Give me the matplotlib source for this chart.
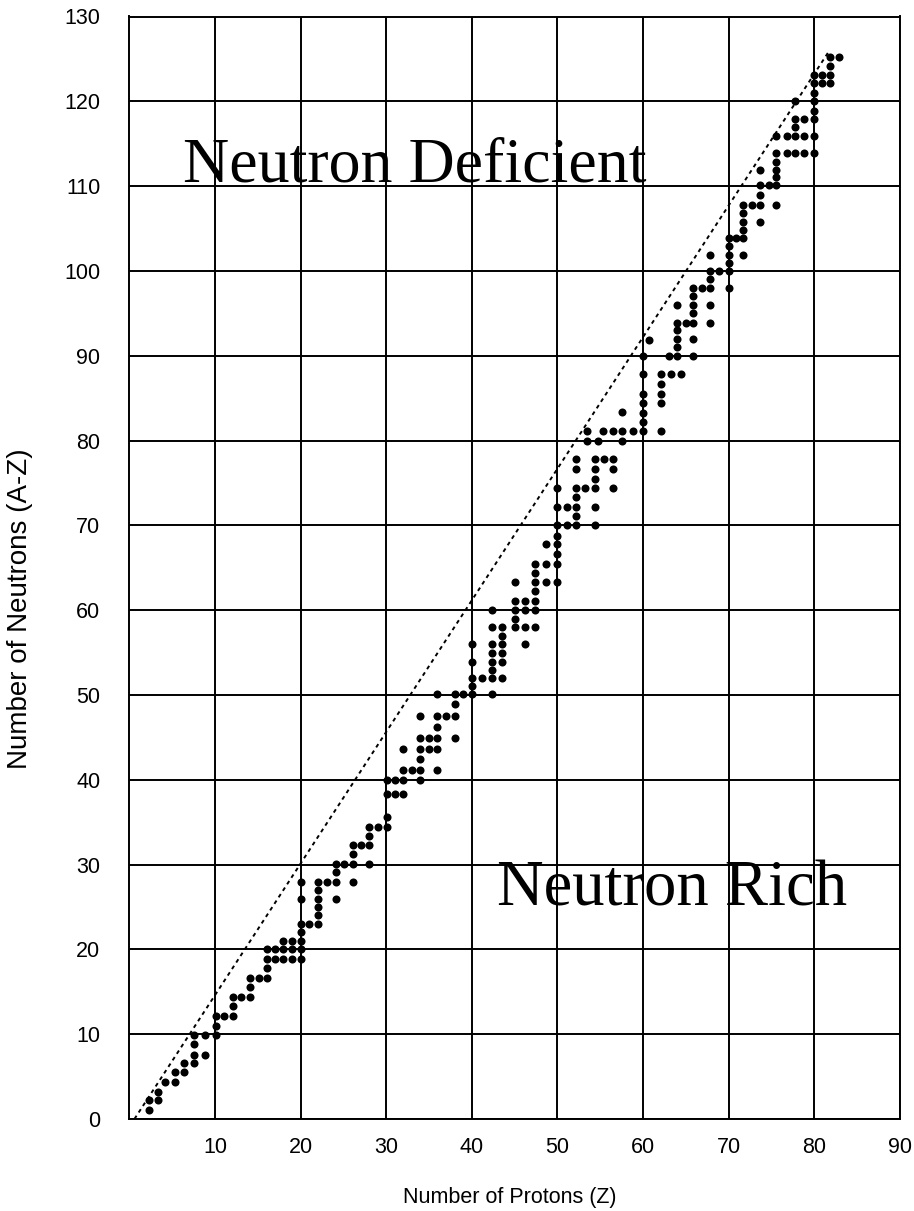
from matplotlib import pyplot as plt

# stable nuclides (protons Z -> neutron counts N)
columns = [
    (2.3, [1.1, 2.2]),
    (3.4, [2.2, 3.2]),
    (4.2, [4.4]),
    (5.3, [4.4, 5.5]),
    (6.4, [5.5, 6.6]),
    (7.5, [6.6, 7.6, 8.8, 9.9]),
    (8.8, [7.6, 9.9]),
    (10.1, [9.9, 11.0, 12.2]),
    (11.1, [12.2]),
    (12.1, [12.2, 13.3, 14.4]),
    (13.1, [14.4]),
    (14.1, [14.4, 15.6, 16.6]),
    (15.1, [16.6]),
    (16.1, [16.6, 17.8, 18.9, 20.0]),
    (17.0, [18.9, 20.0]),
    (18.0, [18.9, 20.0, 21.0]),
    (19.0, [18.9, 20.0, 21.0]),
    (20.0, [18.9, 20.0, 21.0, 22.0, 23.0, 26.0, 28.0]),
    (21.0, [23.0]),
    (22.1, [23.0, 24.1, 25.0, 26.0, 27.0, 28.0]),
    (23.1, [28.0]),
    (24.1, [26.0, 28.0, 29.1, 30.1]),
    (25.1, [30.1]),
    (26.1, [28.0, 30.1, 31.2, 32.3]),
    (27.1, [32.3]),
    (28.0, [30.1, 32.3, 33.4, 34.4]),
    (29.0, [34.4]),
    (30.1, [34.4, 35.6, 38.3, 40.0]),
    (31.0, [38.3, 40.0]),
    (32.0, [38.3, 40.0, 41.2, 43.6]),
    (33.0, [41.2]),
    (34.0, [40.0, 41.2, 42.4, 43.6, 44.9, 47.5]),
    (35.0, [43.6, 44.9]),
    (36.0, [41.2, 43.6, 44.9, 46.2, 47.5, 50.1]),
    (37.0, [47.5]),
    (38.0, [44.9, 47.5, 48.9, 50.1]),
    (39.0, [50.1]),
    (40.0, [50.1, 51.1, 52.0, 53.9, 56.0]),
    (41.2, [52.0]),
    (42.4, [50.1, 52.0, 53.0, 53.9, 54.9, 56.0, 58.0, 60.0]),
    (43.5, [52.0, 53.9, 54.9, 56.0, 57.0, 58.0]),
    (45.1, [58.0, 59.0, 60.0, 61.1, 63.3]),
    (46.2, [56.0, 58.0, 60.0, 61.1]),
    (47.4, [58.0, 60.0, 61.1, 62.2, 63.3, 64.4, 65.5]),
    (48.7, [63.3, 65.5, 67.8]),
    (50.0, [63.3, 65.5, 66.6, 67.8, 68.8, 70.0, 72.2, 74.4]),
    (51.1, [70.0, 72.2]),
    (52.2, [70.0, 71.1, 72.2, 73.3, 74.4, 76.6, 77.8]),
    (53.2, [74.4]),
    (53.5, [80.0, 81.1]),
    (54.4, [70.0, 72.2, 74.4, 75.5, 76.6, 77.8]),
    (54.8, [80.0]),
    (55.3, [81.1]),
    (55.5, [77.8]),
    (56.5, [74.4, 76.6, 77.8, 81.1]),
    (57.6, [80.0, 81.1, 83.4]),
    (58.9, [81.1]),
    (60.0, [81.1, 82.2, 83.3, 84.4, 85.5, 87.8, 90.0]),
    (60.7, [91.9]),
    (62.1, [81.1, 84.4, 85.5, 86.7, 87.8]),
    (63.0, [90.0]),
    (63.3, [87.8]),
    (64.0, [90.0, 91.0, 92.0, 93.0, 93.9, 96.0]),
    (64.5, [87.8]),
    (65.0, [93.9]),
    (65.8, [90.0, 92.0, 93.9, 95.0, 96.0, 97.0, 98.0]),
    (66.9, [98.0]),
    (67.8, [93.9, 96.0, 98.0, 99.1, 100.0, 101.9]),
    (68.9, [100.0]),
    (70.0, [98.0, 100.0, 100.9, 101.9, 102.9, 103.9]),
    (70.9, [103.9]),
    (71.7, [101.9, 103.9, 104.8, 105.8, 106.8, 107.8]),
    (72.7, [107.8]),
    (73.7, [105.8, 107.8, 109.0, 110.1, 111.9]),
    (74.7, [110.1]),
    (75.6, [107.8, 110.1, 111.1, 111.9, 112.9, 113.9, 115.9]),
    (76.8, [113.9, 115.9]),
    (77.8, [113.9, 115.9, 117.0, 117.9, 120.0]),
    (78.8, [113.9, 115.9, 117.9]),
    (80.0, [113.9, 115.9, 117.9, 118.9, 120.0, 121.0, 122.1, 123.1]),
    (80.9, [122.1, 123.1]),
    (81.9, [122.1, 123.1, 124.2, 125.2]),
    (82.9, [125.2]),
]

# dotted guide line drawn over the band
line_z = [0.6, 81.8]
line_n = [0.0, 126.0]

x_ticks = [10, 20, 30, 40, 50, 60, 70, 80, 90]
y_ticks = [0, 10, 20, 30, 40, 50, 60, 70, 80, 90, 100, 110, 120, 130]

protons = []
neutrons = []
for z, ns in columns:
    for n in ns:
        protons.append(z)
        neutrons.append(n)

fig = plt.figure(figsize=(9.14, 12.11), dpi=100)
ax = fig.add_axes([129.3 / 914, 1 - 1119 / 1211, 770.4 / 914, 1102.5 / 1211])

ax.set_xlim(0, 90)
ax.set_ylim(0, 130)
ax.set_xticks(x_ticks)
ax.set_yticks(y_ticks)
ax.grid(True, color='black', linewidth=1.4)
ax.set_axisbelow(True)
for s in ax.spines.values():
    s.set_linewidth(1.4)
ax.tick_params(length=0, labelsize=15.5, pad=0)
ax.tick_params(axis='y', pad=21)
ax.tick_params(axis='x', pad=13)
for lab in ax.get_xticklabels() + ax.get_yticklabels():
    lab.set_fontfamily('Liberation Sans')

ax.plot(line_z, line_n, color='black', linestyle=(0, (2, 2)), linewidth=1.4)
ax.plot(protons, neutrons, 'o', color='black', markersize=5.8, markeredgewidth=0)

ax.text(6.3, 110.6, 'Neutron Deficient', family='Liberation Serif', fontsize=46)
ax.text(43.0, 25.2, 'Neutron Rich', family='Liberation Serif', fontsize=46.5)

fig.text(510 / 914, 1 - 1197 / 1211, 'Number of Protons (Z)', family='Liberation Sans',
         fontsize=15.5, ha='center', va='center')
fig.text(20 / 914, 1 - 609 / 1211, 'Number of Neutrons (A-Z)', family='Liberation Sans',
         fontsize=20, ha='center', va='center', rotation=90)

fig.savefig('out.png', dpi=100)
